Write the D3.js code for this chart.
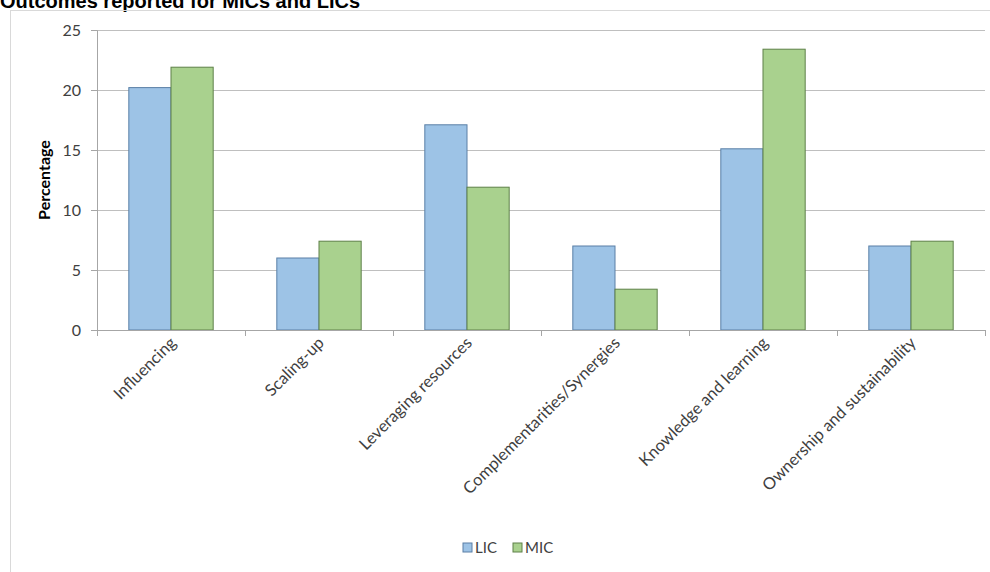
<!DOCTYPE html>
<html>
<head>
<meta charset="utf-8">
<script src="https://cdn.jsdelivr.net/npm/d3@7"></script>
<style>
  body { margin: 0; background: #fff; }
  svg { display: block; }
</style>
</head>
<body>
<svg width="990" height="572"></svg>
<script>
// data
const categories = [
  "Influencing",
  "Scaling-up",
  "Leveraging resources",
  "Complementarities/Synergies",
  "Knowledge and learning",
  "Ownership and sustainability",
];
const series = ["LIC", "MIC"];
const licValues = [20.2, 6.0, 17.1, 7.0, 15.1, 7.0];
const micValues = [21.9, 7.4, 11.9, 3.4, 23.4, 7.4];
const yTicks = [0, 5, 10, 15, 20, 25];

const colors = { LIC: "#9dc3e6", MIC: "#a9d18e" };
const strokes = { LIC: "#5a7fa6", MIC: "#5f8048" };
const FONT = "Lato, Open Sans, sans-serif";

const svg = d3.select("svg");
const margin = { top: 30, right: 5, bottom: 242, left: 97 };
const width = 990 - margin.left - margin.right,
  height = 572 - margin.top - margin.bottom;

const rows = categories.map((c, i) => ({ cat: c, LIC: licValues[i], MIC: micValues[i] }));

// title (cut off at the top like the source)
svg.append("text")
  .attr("x", 0)
  .attr("y", 8)
  .attr("font-family", "Liberation Sans, Arial, sans-serif")
  .attr("font-weight", "bold")
  .attr("font-size", 20)
  .attr("fill", "#000")
  .text("Outcomes reported for MICs and LICs");

// chart frame
svg.append("rect")
  .attr("x", 10.5)
  .attr("y", 10.5)
  .attr("width", 990)
  .attr("height", 580)
  .attr("fill", "none")
  .attr("stroke", "#d9d9d9");

const g = svg.append("g").attr("transform", `translate(${margin.left},${margin.top})`);

const x0 = d3.scaleBand().domain(categories).range([0, width]).paddingInner(0.43).paddingOuter(0.215);
const x1 = d3.scaleBand().domain(series).range([0, x0.bandwidth()]);
const y = d3.scaleLinear().domain([0, 25]).range([height, 0]);

// gridlines
g.append("g")
  .selectAll("line")
  .data(yTicks.filter((d) => d > 0))
  .join("line")
  .attr("x1", 0)
  .attr("x2", width)
  .attr("y1", (d) => Math.round(y(d)) + 0.5)
  .attr("y2", (d) => Math.round(y(d)) + 0.5)
  .attr("stroke", "#bfbfbf")
  .attr("stroke-width", 1.2);

// bars
g.append("g")
  .selectAll("g")
  .data(rows)
  .join("g")
  .attr("transform", (d) => `translate(${x0(d.cat)},0)`)
  .selectAll("rect")
  .data((d) => series.map((s) => ({ key: s, value: d[s] })))
  .join("rect")
  .attr("x", (d) => x1(d.key))
  .attr("y", (d) => y(d.value))
  .attr("width", x1.bandwidth())
  .attr("height", (d) => height - y(d.value))
  .attr("fill", (d) => colors[d.key])
  .attr("stroke", (d) => strokes[d.key])
  .attr("stroke-width", 1);

// y axis
const yAxis = g.append("g")
  .call(d3.axisLeft(y).tickValues(yTicks).tickSize(6).tickPadding(10));
yAxis.select(".domain").attr("stroke", "#a6a6a6");
yAxis.selectAll(".tick line").attr("stroke", "#a6a6a6");
yAxis.selectAll(".tick text")
  .attr("font-family", FONT)
  .attr("font-size", 16)
  .attr("fill", "#404040");

// x axis: ticks at category boundaries
const xAxisG = g.append("g").attr("transform", `translate(0,${height})`);
xAxisG.append("line")
  .attr("x1", 0).attr("x2", width)
  .attr("y1", 0.5).attr("y2", 0.5)
  .attr("stroke", "#a6a6a6");
const step = width / categories.length;
xAxisG.selectAll(".bt")
  .data(d3.range(categories.length + 1))
  .join("line")
  .attr("class", "bt")
  .attr("x1", (i) => Math.round(i * step) + 0.5)
  .attr("x2", (i) => Math.round(i * step) + 0.5)
  .attr("y1", 0)
  .attr("y2", 6)
  .attr("stroke", "#a6a6a6");

xAxisG.selectAll(".lab")
  .data(categories)
  .join("text")
  .attr("class", "lab")
  .attr("transform", (d) => `translate(${x0(d) + x0.bandwidth() / 2 + 6},${14}) rotate(-45)`)
  .attr("text-anchor", "end")
  .attr("font-family", FONT)
  .attr("font-size", 16.5)
  .attr("fill", "#404040")
  .text((d) => d);

// y axis title
svg.append("text")
  .attr("transform", `translate(50,${margin.top + height / 2}) rotate(-90)`)
  .attr("text-anchor", "middle")
  .attr("font-family", FONT)
  .attr("font-weight", "bold")
  .attr("font-size", 16)
  .attr("fill", "#000")
  .text("Percentage");

// legend
const legend = svg.append("g").attr("transform", "translate(463,543)");
const items = [
  { key: "LIC", x: 0 },
  { key: "MIC", x: 50 },
];
const li = legend.selectAll("g").data(items).join("g").attr("transform", (d) => `translate(${d.x},0)`);
li.append("rect")
  .attr("width", 9).attr("height", 9)
  .attr("fill", (d) => colors[d.key])
  .attr("stroke", (d) => strokes[d.key]);
li.append("text")
  .attr("x", 12).attr("y", 10)
  .attr("font-family", FONT)
  .attr("font-size", 15)
  .attr("fill", "#404040")
  .text((d) => d.key);
</script>
</body>
</html>
